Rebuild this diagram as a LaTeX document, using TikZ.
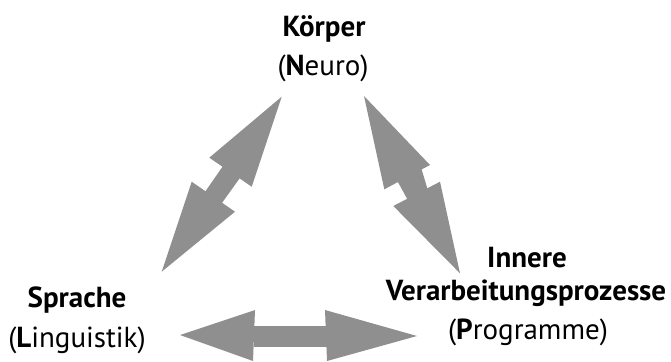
\documentclass[tikz,border=0pt]{standalone}
\usepackage{fontspec}
\setmainfont{PT Sans}
\definecolor{arrowgray}{HTML}{8F8F8F}
\tikzset{
  lbl/.style={inner sep=0pt, anchor=base, font=\fontsize{29}{33}\selectfont},
  blk/.style={fill=arrowgray, draw=none}
}
\begin{document}
\begin{tikzpicture}[x=1pt,y=-1pt]
\useasboundingbox (0,0) rectangle (671,361);
% labels
\node[lbl] (koerper) at (324,37) {\textbf{Körper}};
\node[lbl] (neuro) at (323,75) {(\textbf{N}euro)};
\node[lbl] (sprache) at (77,307) {\textbf{Sprache}};
\node[lbl] (ling) at (77,347) {(\textbf{L}inguistik)};
\node[lbl] (innere) at (527,267) {\textbf{Innere}};
\node[lbl] (verarb) at (526,300) {\textbf{Verarbeitungsprozesse}};
\node[lbl] (progr) at (528,339) {(\textbf{P}rogramme)};
% left diagonal arrow (Koerper <-> Sprache)
\fill[blk] (226,161.7) -- (242.7,174) -- (219.3,206.7) -- (201.7,196.7) -- cycle;
\fill[blk] (281.7,96.7) -- (251.7,186.7) -- (209.3,157.7) -- cycle;
\fill[blk] (161.7,271.7) -- (191.7,181.7) -- (235,211.7) -- cycle;
% right diagonal arrow (Koerper <-> Innere)
\fill[blk] (395,176.7) -- (421,167.3) -- (429.3,195) -- (410,204) -- cycle;
\fill[blk] (364,96) -- (430,165) -- (384.3,189.3) -- cycle;
\fill[blk] (460,273.3) -- (393.3,206) -- (440,181.7) -- cycle;
% bottom arrow (Sprache <-> Programme)
\fill[blk] (254,326) -- (327,326) -- (327,347) -- (254,347) -- cycle;
\fill[blk] (180,335) -- (255,310) -- (253,361) -- cycle;
\fill[blk] (417,336) -- (325,310) -- (327,361) -- cycle;
\end{tikzpicture}
\end{document}
